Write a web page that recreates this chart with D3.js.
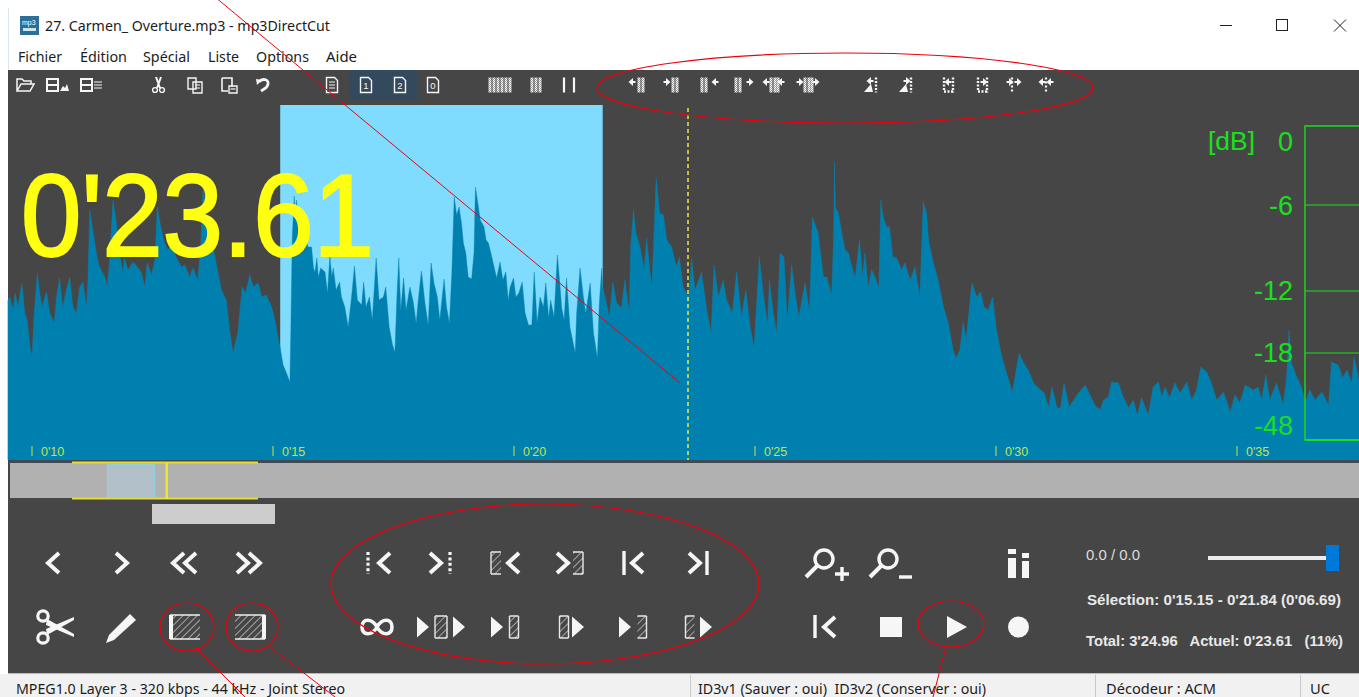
<!DOCTYPE html>
<html><head><meta charset="utf-8">
<script src="https://cdn.jsdelivr.net/npm/d3@7"></script>
<style>html,body{margin:0;padding:0;background:#fff;overflow:hidden}svg{display:block}</style>
</head><body><div id="c"></div>
<script>
// ---- data: [seconds, level] ----
const waveform = [[9.50,160],[9.54,163],[9.61,150],[9.65,167],[9.71,153],[9.79,177],[9.85,147],[9.90,140],[9.96,113],[10.00,102],[10.04,143],[10.11,187],[10.16,167],[10.21,153],[10.30,168],[10.37,147],[10.46,137],[10.51,163],[10.57,182],[10.64,152],[10.69,165],[10.78,183],[10.85,153],[10.92,147],[10.99,173],[11.06,178],[11.13,152],[11.16,180],[11.20,250],[11.27,227],[11.36,200],[11.40,193],[11.51,183],[11.56,173],[11.61,200],[11.68,260],[11.75,237],[11.82,205],[11.89,187],[11.92,202],[11.99,190],[12.10,198],[12.20,192],[12.27,187],[12.34,173],[12.39,197],[12.48,185],[12.55,200],[12.60,253],[12.67,233],[12.75,217],[12.82,210],[12.89,215],[12.99,203],[13.10,193],[13.17,195],[13.27,183],[13.34,192],[13.44,180],[13.50,213],[13.55,273],[13.65,237],[13.72,223],[13.82,197],[13.93,170],[14.03,160],[14.10,130],[14.17,107],[14.27,127],[14.36,173],[14.43,167],[14.52,185],[14.59,173],[14.69,177],[14.77,163],[14.86,165],[14.97,153],[15.04,140],[15.10,123],[15.15,112],[15.21,95],[15.28,87],[15.35,78],[15.37,130],[15.40,223],[15.44,264],[15.46,247],[15.49,260],[15.53,227],[15.56,237],[15.62,237],[15.66,223],[15.73,213],[15.80,213],[15.84,192],[15.87,188],[15.91,202],[15.94,183],[15.99,192],[16.08,188],[16.13,167],[16.18,204],[16.22,183],[16.25,192],[16.31,170],[16.38,178],[16.42,163],[16.49,153],[16.56,133],[16.63,163],[16.69,194],[16.75,160],[16.84,155],[16.88,178],[16.93,153],[17.00,163],[17.06,140],[17.14,202],[17.20,160],[17.29,163],[17.34,173],[17.41,133],[17.48,115],[17.53,108],[17.57,163],[17.61,202],[17.65,150],[17.71,182],[17.76,150],[17.84,173],[17.91,158],[17.97,137],[18.02,163],[18.08,189],[18.15,158],[18.22,135],[18.28,197],[18.34,177],[18.41,163],[18.46,140],[18.55,181],[18.60,153],[18.66,137],[18.71,187],[18.76,263],[18.81,245],[18.86,253],[18.91,237],[18.95,217],[19.00,207],[19.05,183],[19.12,181],[19.17,207],[19.20,273],[19.25,257],[19.30,240],[19.38,233],[19.42,220],[19.47,217],[19.54,203],[19.64,182],[19.71,198],[19.77,180],[19.83,188],[19.88,160],[19.92,173],[19.99,182],[20.04,163],[20.10,167],[20.17,178],[20.23,147],[20.30,135],[20.37,135],[20.42,188],[20.48,137],[20.54,163],[20.61,153],[20.66,177],[20.72,142],[20.76,160],[20.83,143],[20.90,205],[20.95,177],[20.99,152],[21.04,140],[21.09,182],[21.16,133],[21.27,107],[21.30,147],[21.37,192],[21.44,163],[21.49,147],[21.58,177],[21.65,127],[21.73,102],[21.77,157],[21.82,192],[21.84,173],[21.89,163],[21.98,143],[22.05,178],[22.13,157],[22.23,152],[22.30,180],[22.39,148],[22.42,213],[22.48,250],[22.53,227],[22.63,210],[22.70,190],[22.75,222],[22.86,172],[22.90,220],[22.95,282],[23.02,247],[23.10,245],[23.17,220],[23.27,213],[23.37,193],[23.43,203],[23.51,173],[23.62,163],[23.69,202],[23.75,170],[23.82,178],[23.89,188],[24.00,150],[24.09,127],[24.15,195],[24.24,163],[24.34,180],[24.41,160],[24.53,147],[24.62,188],[24.72,143],[24.81,170],[24.90,133],[24.98,112],[25.09,203],[25.17,167],[25.26,135],[25.30,180],[25.38,147],[25.45,127],[25.52,207],[25.60,203],[25.67,140],[25.76,195],[25.83,167],[25.91,143],[26.04,177],[26.13,148],[26.19,243],[26.31,227],[26.42,183],[26.49,183],[26.59,165],[26.63,223],[26.65,298],[26.67,252],[26.73,247],[26.80,227],[26.87,210],[26.94,207],[27.01,193],[27.08,183],[27.17,220],[27.23,183],[27.28,207],[27.35,173],[27.42,190],[27.49,183],[27.57,172],[27.61,260],[27.66,243],[27.73,233],[27.79,233],[27.86,203],[27.94,202],[28.04,190],[28.11,197],[28.22,180],[28.32,193],[28.42,163],[28.49,258],[28.56,247],[28.60,220],[28.70,197],[28.80,180],[28.91,153],[29.01,137],[29.11,110],[29.17,102],[29.25,110],[29.32,138],[29.38,120],[29.50,177],[29.60,163],[29.68,168],[29.75,153],[29.84,150],[29.93,163],[30.01,130],[30.12,103],[30.22,87],[30.34,68],[30.48,107],[30.57,97],[30.67,90],[30.78,77],[30.88,72],[31.00,67],[31.09,53],[31.16,73],[31.27,52],[31.34,52],[31.41,77],[31.52,53],[31.71,67],[31.85,75],[31.95,65],[32.05,55],[32.16,50],[32.23,60],[32.33,63],[32.40,78],[32.54,77],[32.64,63],[32.75,52],[32.85,60],[32.93,45],[33.02,62],[33.16,45],[33.26,73],[33.37,78],[33.44,63],[33.51,73],[33.60,62],[33.71,77],[33.82,67],[33.96,78],[34.06,60],[34.16,70],[34.25,93],[34.37,88],[34.47,77],[34.58,60],[34.72,68],[34.86,48],[34.96,65],[35.06,57],[35.17,75],[35.34,70],[35.44,73],[35.51,60],[35.60,85],[35.68,60],[35.82,77],[35.96,55],[36.03,83],[36.08,130],[36.13,97],[36.24,83],[36.34,73],[36.41,57],[36.51,70],[36.62,60],[36.76,68],[36.90,55],[36.96,98],[37.10,95],[37.19,82],[37.28,90],[37.38,77],[37.43,103],[37.53,80]];
const timeTicks = [10,15,20,25,30,35];
const timeTickLabels = ["0'10","0'15","0'20","0'25","0'30","0'35"];
const selectionRange = [15.15,21.84];
const cursorTime = 23.61;
const dbValues = [0,-6,-12,-18,-48];
const dbLabels = ["0","-6","-12","-18","-48"];
const titleText = "27. Carmen_ Overture.mp3 - mp3DirectCut";
const menuItems = ["Fichier","Édition","Spécial","Liste","Options","Aide"];
const bigTime = "0'23.61";
const statusItems = ["MPEG1.0 Layer 3 - 320 kbps - 44 kHz - Joint Stereo","ID3v1 (Sauver : oui)  ID3v2 (Conserver : oui)","Décodeur : ACM","UC"];
const infoLines = ["0.0 / 0.0","Sélection: 0'15.15 - 0'21.84 (0'06.69)","Total: 3'24.96   Actuel: 0'23.61   (11%)"];

// ---- scaffold ----
const W=1359,H=697;
const svg=d3.select("#c").append("svg").attr("width",W).attr("height",H);
const defs=svg.append("defs");
function hatch(id,col,sp,sw=1.3){
  const p=defs.append("pattern").attr("id",id).attr("patternUnits","userSpaceOnUse").attr("width",sp).attr("height",sp).attr("patternTransform","rotate(45)");
  p.append("line").attr("x1",0).attr("y1",0).attr("x2",0).attr("y2",sp).attr("stroke",col).attr("stroke-width",sw);
}
hatch("h1","#dcdcdc",5); hatch("h2","#a6bfcd",6);
const DARK="#464646",WH="#f6f6f6",UI="'Noto Sans',sans-serif",AR="'Liberation Sans',Arial,sans-serif",NAR="'Liberation Sans Narrow','Liberation Sans',sans-serif";
const rect=(x,y,w,h,f,p=svg)=>p.append("rect").attr("x",x).attr("y",y).attr("width",w).attr("height",h).attr("fill",f);
const text=(s,x,y,sz,f,o={},p=svg)=>{const t=p.append("text").attr("x",x).attr("y",y).attr("font-size",sz).attr("fill",f).attr("font-family",o.ff||UI).attr("xml:space","preserve").style("white-space","pre").text(s);
  if(o.w)t.attr("textLength",o.w).attr("lengthAdjust","spacingAndGlyphs");if(o.a)t.attr("text-anchor",o.a);if(o.b)t.attr("font-weight",o.b);return t;};

rect(0,0,W,H,"#ffffff");
rect(8,70,W-8,604,DARK);
rect(0,674,W,23,"#f1f1f1"); rect(8,673,W-8,1,"#b8b8b8");
rect(8,8,1,62,"#d8e8f0");

// title bar
const logo=svg.append("g");
rect(20,16,19,19,"#2d6f96",logo);
text("mp3",22,25,7,"#fff",{ff:AR},logo); rect(23,28,13,3,"#cfe4ef",logo);
text(titleText,45,31,14.2,"#1c1c1c",{w:285});
const menuX=[18,80,143,208,256,326], menuW=[44,47,47,31,53,31];
menuItems.forEach((m,i)=>text(m,menuX[i],62,14,"#1c1c1c",{w:menuW[i]}));
svg.append("path").attr("d","M1220,25.5H1232").attr("stroke","#222").attr("stroke-width",1);
svg.append("rect").attr("x",1276.5).attr("y",19.5).attr("width",11).attr("height",11).attr("fill","none").attr("stroke","#222");
svg.append("path").attr("d","M1334,19.5L1346,31.5M1346,19.5L1334,31.5").attr("stroke","#222").attr("stroke-width",1);

// toolbar
rect(349,70,34,30,"#33495d"); rect(383,70,34,30,"#33495d");

// waveform
const x=d3.scaleLinear().domain([10,35]).range([32,1237]);
const yLevel=d3.scaleLinear().domain([0,355]).range([460,105]);
rect(x(selectionRange[0]),yLevel(355),x(selectionRange[1])-x(selectionRange[0]),yLevel(0)-yLevel(355),"#80dcff");
svg.append("path").datum(waveform).attr("fill","#0080ae").attr("stroke","#0784b0").attr("stroke-width",0.4)
  .attr("d",d3.area().x(d=>x(d[0])).y0(yLevel(0)).y1(d=>yLevel(d[1])));
rect(8,460,W-8,3,"#3f4a52");

// cursor
svg.append("line").attr("x1",x(cursorTime)).attr("x2",x(cursorTime)).attr("y1",108).attr("y2",460)
  .attr("stroke","#f2f24a").attr("stroke-width",1.4).attr("stroke-dasharray","4 3");

// time ticks
const tickG=svg.selectAll("g.tick").data(timeTicks).join("g").attr("class","tick").attr("transform",d=>`translate(${x(d)},0)`);
tickG.append("line").attr("y1",446).attr("y2",456).attr("stroke","#c4e44c").attr("stroke-width",1);
tickG.append("text").attr("x",9).attr("y",456).attr("font-size",12.5).attr("fill","#c4e44c").attr("font-family",NAR).text((d,i)=>timeTickLabels[i]);

// big time
text(bigTime,21,256,116,"#ffff10",{ff:AR,w:353}).attr("stroke","#ffff10").attr("stroke-width",2.2);

// dB meter
const yDb=d3.scaleLinear().domain(dbValues).range([126,205,291,353,440]);
const yDbLabel=d3.scaleLinear().domain(dbValues).range([141,205,290,352,425]);
const GR="#19e01c";
svg.append("path").attr("d",`M${W},${yDb(0)}H1305V${yDb(-48)}H${W}`).attr("fill","none").attr("stroke",GR).attr("stroke-width",1.4);
svg.append("line").attr("x1",1305).attr("x2",W).attr("y1",yDb(-48)).attr("y2",yDb(-48)).attr("stroke",GR).attr("stroke-width",2.2);
svg.selectAll("line.db").data(dbValues.slice(1,4)).join("line").attr("class","db").attr("x1",1305).attr("x2",W).attr("y1",d=>yDb(d)).attr("y2",d=>yDb(d)).attr("stroke",GR).attr("stroke-width",1.2);
svg.selectAll("text.db").data(dbValues).join("text").attr("class","db").attr("x",1293).attr("y",d=>yDbLabel(d)+10).attr("text-anchor","end")
  .attr("font-size",27).attr("font-family",AR).attr("fill",GR).text((d,i)=>dbLabels[i]);
text("[dB]",1208,150,25,GR,{ff:AR,w:47});

// overview bar
rect(10,463,W-10,35,"#b1b1b1");
svg.append("path").attr("d","M72,462.5H258M72,498.5H258").attr("stroke","#e6dc2e").attr("stroke-width",1.8);
rect(107,464,48,34,"#b3c0c8");rect(107,464,48,34,"url(#h2)"); svg.append("rect").attr("x",107.5).attr("y",464.5).attr("width",47).attr("height",33).attr("fill","none").attr("stroke","#93cfe6").attr("stroke-width",1.2);
rect(165.5,463,2.5,36,"#f2e62c");
rect(152,504,123,20,"#cdcdcd");

// ---- icons ----
const ic=(cx,cy)=>svg.append("g").attr("transform",`translate(${cx},${cy})`);
const ln=(g,d,w=4,c=WH,extra={})=>{const p=g.append("path").attr("d",d).attr("fill","none").attr("stroke",c).attr("stroke-width",w);for(const k in extra)p.attr(k,extra[k]);return p;};
const fl=(g,d,c=WH)=>g.append("path").attr("d",d).attr("fill",c);
const chevL="M6,-10L-5,0L6,10", chevR="M-6,-10L5,0L-6,10";
function hbox(g,cx,w=10,h=22,sides="lr"){
  const x0=cx-w/2;
  g.append("rect").attr("x",x0).attr("y",-h/2).attr("width",w).attr("height",h).attr("fill","url(#h1)");
  let d=`M${x0},${-h/2}H${x0+w}M${x0},${h/2}H${x0+w}`;
  if(sides.includes("l"))d+=`M${x0},${-h/2}V${h/2}`;
  if(sides.includes("r"))d+=`M${x0+w},${-h/2}V${h/2}`;
  ln(g,d,1.4,"#e8e8e8");
}
const tri=(g,cx,w=12,h=21)=>fl(g,`M${cx-w/2},${-h/2}L${cx+w/2},0L${cx-w/2},${h/2}Z`);
const dots=(g,cx)=>ln(g,`M${cx},-11V11`,3.2,WH,{"stroke-dasharray":"3 2.4"});

// row 1
ln(ic(53,563),chevL); ln(ic(122,563),chevR);
{const g=ic(184,563);ln(g,"M0,-10L-11,0L0,10");ln(g,"M12,-10L1,0L12,10");}
{const g=ic(249,563);ln(g,"M-12,-10L-1,0L-12,10");ln(g,"M0,-10L11,0L0,10");}
{const g=ic(377,563);dots(g,-9);ln(g,"M13,-10L2,0L13,10");}
{const g=ic(441,563);ln(g,"M-11,-10L0,0L-11,10");dots(g,9);}
{const g=ic(505,563);hbox(g,-9,10,22,"l");ln(g,"M14,-10L3,0L14,10");}
{const g=ic(570,563);ln(g,"M-13,-10L-2,0L-13,10");hbox(g,8,10,22,"r");}
{const g=ic(633,563);ln(g,"M-9,-12V12",3.4);ln(g,"M10,-10L-1,0L10,10");}
{const g=ic(698,563);ln(g,"M-9,-10L2,0L-9,10");ln(g,"M9,-12V12",3.4);}
// zoom + / -, info
function mag(cx,cy,sym){const g=ic(cx,cy);
  g.append("circle").attr("cx",-1).attr("cy",-5).attr("r",9).attr("fill","none").attr("stroke",WH).attr("stroke-width",3.4);
  ln(g,"M-8,2L-19,13",4);
  ln(g,sym,3.4);}
mag(825,564,"M10,10H24M17,3V17");
mag(889,564,"M10,13H23");
{const g=ic(1018,563);rect(-10,-14,8,5,WH,g);rect(-10,-5,8,20,WH,g);rect(4,-10,7,5,WH,g);rect(4,-2,7,17,WH,g);}
// row 2 : scissors, pencil
{const g=ic(55,627);
  g.selectAll("circle").data([[-12,-11],[-12,11]]).join("circle").attr("cx",d=>d[0]).attr("cy",d=>d[1]).attr("r",5.2).attr("fill","none").attr("stroke",WH).attr("stroke-width",3.2);
  fl(g,"M-8,-8L19,7L19,10L-9,-2Z");fl(g,"M-8,8L19,-7L19,-10L-9,2Z");}
{const g=ic(121,628);fl(g,"M9,-14L15,-8L-7,12L-15,15L-12,7Z");}
function bigHatch(cx,left){const g=ic(cx,627);
  g.append("rect").attr("x",-15).attr("y",-12).attr("width",30).attr("height",24).attr("fill","url(#h1)");
  ln(g,"M-15,-12H15M-15,12H15",1.4,"#eee");
  ln(g,left?"M-14,-12V12":"M14,-12V12",4);}
bigHatch(185,true);bigHatch(250,false);
{const g=ic(377,627);ln(g,"M0,0C-5,-9 -15,-9 -15,0C-15,9 -5,9 0,0C5,-9 15,-9 15,0C15,9 5,9 0,0Z",3.6);}
{const g=ic(441,627);tri(g,-18);hbox(g,0,12,22);tri(g,18);}
{const g=ic(504,627);tri(g,-7);hbox(g,10,9,22);}
{const g=ic(571,627);hbox(g,-7,9,22);tri(g,7);}
{const g=ic(634,627);tri(g,-9);hbox(g,8,9,22,"r");}
{const g=ic(698,627);hbox(g,-8,9,22,"l");tri(g,8);}
{const g=ic(824,627);ln(g,"M-9,-12V11",3.4);ln(g,"M11,-10L0,0L11,10");}
rect(880,617,22,20,WH);
{const g=ic(957,627);tri(g,0,20,22);}
svg.append("circle").attr("cx",1018.5).attr("cy",627).attr("r",10.5).attr("fill",WH);

// small toolbar icons
const tbY=85;
{const g=ic(25,tbY);ln(g,"M-8,6V-6H-3L-1,-4H6V-1M-8,6L-4,-1H9L5,6Z",1.5);}
function disk(cx,kind){const g=ic(cx,tbY);
  g.append("rect").attr("x",-9).attr("y",-6).attr("width",11).attr("height",12).attr("fill","none").attr("stroke",WH).attr("stroke-width",2);
  ln(g,"M-9,0H2",2);
  if(kind)fl(g,"M4,6L7,1L9,3L11,-1L13,6Z");else ln(g,"M4,-3H12M4,0H12M4,3H12",1.2);}
disk(56,true);disk(90,false);
{const g=ic(158,tbY);ln(g,"M-2,-8L2,3M3,-8L-1,3",2);g.append("circle").attr("cx",-3).attr("cy",5).attr("r",2.4).attr("fill","none").attr("stroke",WH).attr("stroke-width",1.4);g.append("circle").attr("cx",4).attr("cy",5).attr("r",2.4).attr("fill","none").attr("stroke",WH).attr("stroke-width",1.4);}
function page(cx,s,w=11,h=15){const g=ic(cx,tbY);
  ln(g,`M${-w/2},${-h/2}H${w/2-3}L${w/2},${-h/2+3}V${h/2}H${-w/2}Z`,1.4);
  if(s===""){ln(g,"M-3,-3H3M-3,0H3M-3,3H3",1.2);} else text(s,0,4,9.5,WH,{ff:AR,a:"middle"},g);return g;}
{const g=ic(195,tbY);ln(g,"M-7,-7H1V4H-7Z",1.4);ln(g,"M-2,-3H7V8H-2Z",1.4);ln(g,"M0,0H5M0,3H5",1);}
{const g=ic(229,tbY);ln(g,"M-7,-7H3V2M-7,-7V6H-1",1.6);ln(g,"M0,1H8V8H0Z",1.4);ln(g,"M1.500,4H6.500",1.2);}
{const g=ic(263,tbY);ln(g,"M-4,-3C-1,-7 6,-6 5,-1C4.500,3 1,4 -2,6",2.8);fl(g,"M-7,-6L-1,-5L-6,0Z");}
page(332,"");page(366,"1");page(400,"2");page(433,"0");
// bar groups
{const p=defs.append("pattern").attr("id","h1b").attr("patternUnits","userSpaceOnUse").attr("width",2).attr("height",2);
 p.append("rect").attr("width",2).attr("height",2).attr("fill","#a0a0a0");p.append("rect").attr("width",1).attr("height",1).attr("fill","#ffffff");p.append("rect").attr("x",1).attr("y",1).attr("width",1).attr("height",1).attr("fill","#ffffff");}
function bars(cx,list,bw=3,y0=tbY){const g=ic(cx,y0);list.forEach(b=>{rect(b-bw/2,-7.5,bw,15,"url(#h1b)",g);});return g;}
bars(500,[-10,-6,-2,2,6,10]);bars(536,[-4,0,4]);
{const g=ic(569,tbY);ln(g,"M-5,-7.500V7.500M5,-7.500V7.500",2.2);}
function arrow(g,cx,dir,cy=-3){const s=`${cx},${cy}`;
  fl(g,dir>0?`M${cx},${cy-4}L${cx+4.5},${cy}L${cx},${cy+4}Z`:`M${cx},${cy-4}L${cx-4.5},${cy}L${cx},${cy+4}Z`);
  ln(g,`M${cx-2.5*dir},${cy}H${cx}`,2);}
// [centre, arrow position before bars, direction, arrow after]
[[636,-3,-1,0],[670,-4,1,0],[707,0,-1,9],[741,0,1,8],[773,-6,-1,9],[807,-8,1,8]].forEach(m=>{
  const g=bars(m[0],m[3]&&m[1]?[-2,2,5]:(m[3]?[-5,-1]:[3,7]));
  if(m[1])arrow(g,m[1],m[2]);
  if(m[3])arrow(g,m[3],m[2]);});
[871,906,948,982].forEach((cx,i)=>{const g=ic(cx,tbY);ln(g,"M5,-7.500V7.500",2.4,WH,{"stroke-dasharray":"2 1.5"});
  if(i<2){fl(g,"M-7,7L0,-1L2,7Z");arrow(g,0,i%2?1:-1,-4);}else{ln(g,"M-4,-7.500V6.500H6",2.4,WH,{"stroke-dasharray":"2 1.5"});arrow(g,1,i%2?1:-1,-3);}});
[1012,1046].forEach((cx,i)=>{const g=ic(cx,tbY);ln(g,"M0,-7.500V7.500",2.2,WH,{"stroke-dasharray":"2 2"});arrow(g,-3,1-2*i,-3);arrow(g,5,1-2*i,-3);});

// slider + info
rect(1208,556,120,4,"#ececec");
rect(1326,545,13,26,"#0078d7");
text(infoLines[0],1086,560,14.5,"#dcdcdc",{ff:NAR,w:54});
text(infoLines[1],1087,605,15,"#e8e8e8",{ff:NAR,b:"bold",w:254});
text(infoLines[2],1086,646,15,"#e8e8e8",{ff:NAR,b:"bold",w:257});

// status bar
const statusX=[16,698,1106,1310], statusW=[329,288,110,20];
statusItems.forEach((s,i)=>text(s,statusX[i],694,14,"#1c1c1c",{w:statusW[i]}));
svg.selectAll("line.sep").data([690,1095,1300]).join("line").attr("class","sep").attr("x1",d=>d+.5).attr("x2",d=>d+.5).attr("y1",675).attr("y2",697).attr("stroke","#c8c8c8");

// red annotations
const RED="#ee0010";
const ellipses=[[845,88,248,35],[545,584,214,80],[187,627,27,24],[252,627,26,24],[951,624,33,23]];
svg.selectAll("ellipse").data(ellipses).join("ellipse").attr("cx",d=>d[0]).attr("cy",d=>d[1]).attr("rx",d=>d[2]).attr("ry",d=>d[3]).attr("fill","none").attr("stroke",RED).attr("stroke-width",1.2);
const redLines=[[215,-3,680,383],[195,647,245,697],[270,647,335,697],[946,647,933,697]];
svg.selectAll("line.red").data(redLines).join("line").attr("class","red").attr("x1",d=>d[0]).attr("y1",d=>d[1]).attr("x2",d=>d[2]).attr("y2",d=>d[3]).attr("stroke",RED).attr("stroke-width",1);
</script></body></html>
